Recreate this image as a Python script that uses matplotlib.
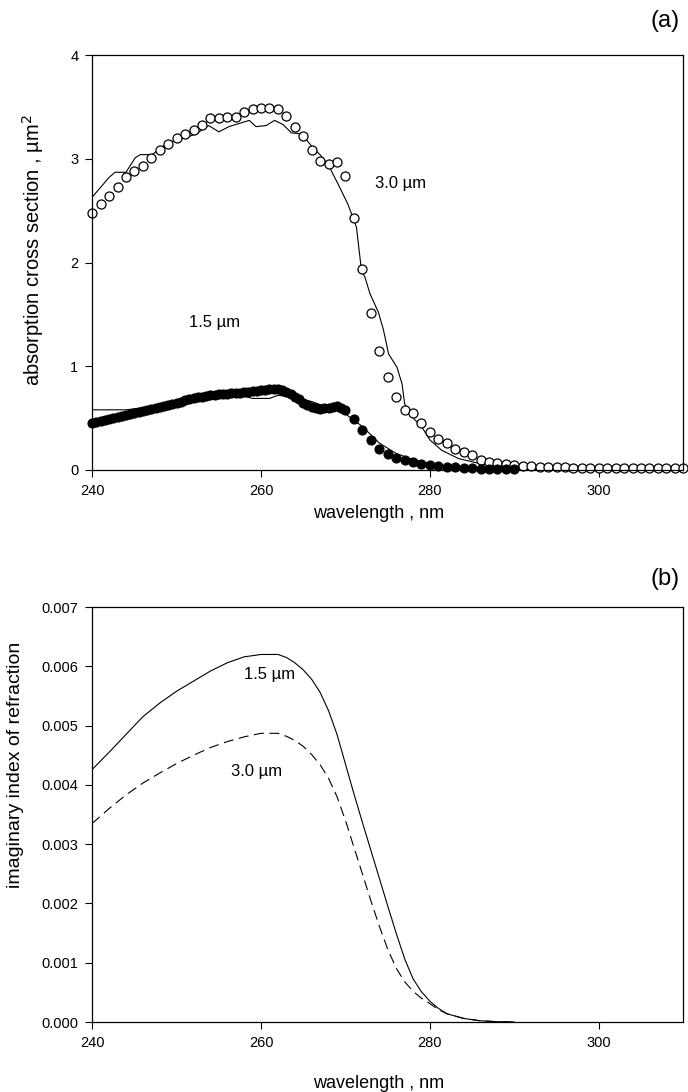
import numpy as np
import matplotlib
matplotlib.use('Agg')
import matplotlib.pyplot as plt

plt.rcParams['font.family'] = ['Liberation Sans', 'DejaVu Sans']

# (a) measured absorption cross section, 3.0 um particles (open circles)
wl_30 = np.arange(240, 311, 1.0)
abs_30 = [2.48, 2.56, 2.64, 2.73, 2.82, 2.88, 2.93, 3.01, 3.08, 3.14,
          3.20, 3.24, 3.28, 3.33, 3.39, 3.39, 3.40, 3.40, 3.45, 3.48,
          3.49, 3.49, 3.48, 3.41, 3.31, 3.22, 3.08, 2.98, 2.95, 2.97,
          2.83, 2.43, 1.94, 1.51, 1.15, 0.90, 0.70, 0.58, 0.55, 0.45,
          0.37, 0.30, 0.26, 0.20, 0.17, 0.14, 0.10, 0.08, 0.07, 0.06,
          0.05, 0.04, 0.04, 0.03, 0.03, 0.03, 0.03, 0.02, 0.02, 0.02,
          0.02, 0.02, 0.02, 0.02, 0.02, 0.02, 0.02, 0.02, 0.02, 0.02,
          0.02]

# (a) measured, 1.5 um particles (filled circles)
wl_15 = list(np.arange(240, 270.5, 0.5)) + list(np.arange(271, 291, 1.0))
abs_15 = [0.45, 0.46, 0.47, 0.48, 0.49, 0.50, 0.51, 0.52, 0.53, 0.54,
          0.55, 0.56, 0.57, 0.58, 0.59, 0.60, 0.61, 0.62, 0.63, 0.64,
          0.65, 0.66, 0.67, 0.68, 0.69, 0.70, 0.70, 0.71, 0.72, 0.72,
          0.73, 0.73, 0.73, 0.74, 0.74, 0.74, 0.75, 0.75, 0.76, 0.76,
          0.77, 0.77, 0.78, 0.78, 0.78, 0.77, 0.75, 0.73, 0.70, 0.68,
          0.65, 0.63, 0.61, 0.60, 0.59, 0.60, 0.60, 0.61, 0.62, 0.60,
          0.58,
          0.49, 0.39, 0.29, 0.20, 0.155, 0.12, 0.10, 0.075, 0.055, 0.045,
          0.035, 0.03, 0.025, 0.02, 0.015, 0.012, 0.01, 0.008, 0.006, 0.005]

# (a) calculated curves
fit_wl_30 = [240, 242, 242.7, 244, 245.1, 245.7, 247.1, 248.7, 249.9, 251,
             252.3, 253.8, 255, 256.2, 257.8, 258.6, 259.4, 260.6, 261.6, 262.6,
             263.6, 264.8, 266, 267.1, 268.1, 269.1, 270.3, 271.3, 271.9, 272.3,
             272.9, 273.9, 274.5, 275.1, 276.1, 276.7, 277, 277.9, 279, 280,
             281.4, 283.4, 286, 290, 295, 300]
fit_30 = [2.63, 2.82, 2.87, 2.87, 3.01, 3.04, 3.04, 3.14, 3.18, 3.20,
          3.24, 3.32, 3.26, 3.31, 3.35, 3.37, 3.31, 3.32, 3.37, 3.33,
          3.25, 3.24, 3.12, 3.03, 2.92, 2.76, 2.56, 2.34, 1.92, 1.86,
          1.70, 1.52, 1.35, 1.12, 0.99, 0.83, 0.64, 0.51, 0.42, 0.29,
          0.19, 0.11, 0.06, 0.02, 0.01, 0.0]
fit_wl_15 = [240, 242, 244, 246, 248, 250, 252, 254, 256, 258,
             259, 261, 262, 264, 266, 268, 270, 272, 274, 276,
             278, 280, 282, 285, 290, 300]
fit_15 = [0.58, 0.58, 0.58, 0.60, 0.63, 0.66, 0.68, 0.70, 0.71, 0.71,
          0.69, 0.69, 0.72, 0.70, 0.66, 0.60, 0.54, 0.42, 0.26, 0.16,
          0.10, 0.06, 0.04, 0.02, 0.01, 0.0]

# (b) imaginary index of refraction
k_wl = [240, 242, 244, 246, 248, 250, 252, 254, 256, 258,
        260, 262, 263, 264, 265, 266, 267, 268, 269, 270,
        271, 272, 273, 274, 275, 276, 277, 278, 279, 280,
        281, 282, 284, 286, 288, 290]
k_15 = [0.00426, 0.00455, 0.00485, 0.00515, 0.00538, 0.00558, 0.00575, 0.00592, 0.00606, 0.00616,
        0.00620, 0.00620, 0.00615, 0.00606, 0.00594, 0.00578, 0.00556, 0.00525, 0.00485, 0.00435,
        0.00385, 0.00337, 0.00290, 0.00243, 0.00196, 0.00150, 0.00107, 0.00073, 0.00051, 0.00035,
        0.00023, 0.00014, 0.00006, 0.00002, 0.000005, 0.0]
k_30 = [0.00335, 0.00360, 0.00383, 0.00403, 0.00420, 0.00436, 0.00450, 0.00463, 0.00473, 0.00481,
        0.00487, 0.00487, 0.00482, 0.00475, 0.00465, 0.00451, 0.00434, 0.00411, 0.00380, 0.00340,
        0.00295, 0.00250, 0.00205, 0.00162, 0.00123, 0.00091, 0.00068, 0.00052, 0.00040, 0.00031,
        0.00021, 0.00014, 0.00006, 0.00002, 0.000005, 0.0]

fig = plt.figure(figsize=(6.88, 10.92), dpi=100)
ax1 = fig.add_axes([0.134, 0.5696, 0.859, 0.380])
ax2 = fig.add_axes([0.134, 0.0641, 0.859, 0.380])

ax1.plot(fit_wl_30, fit_30, '-k', lw=0.8)
ax1.plot(fit_wl_15, fit_15, '-k', lw=0.8)
ax1.plot(wl_30, abs_30, 'o', mfc='white', mec='black', ms=6.5, mew=0.9, clip_on=False)
ax1.plot(wl_15, abs_15, 'o', mfc='black', mec='black', ms=6.5, mew=0.8, clip_on=False)
ax1.text(273.5, 2.72, '3.0 µm', fontsize=12)
ax1.text(251.5, 1.38, '1.5 µm', fontsize=12)
ax1.axis([240, 310, 0, 4])
ax1.set_xticks([240, 260, 280, 300])
ax1.set_yticks([0, 1, 2, 3, 4])
ax1.set_xlabel('wavelength , nm', fontsize=13)
ax1.set_ylabel('absorption cross section , µm$^2$', fontsize=14.5)
ax1.xaxis.set_label_coords(0.485, -0.085)
ax1.yaxis.set_label_coords(-0.078, 0.53)
fig.text(0.988, 0.981, '(a)', fontsize=17, ha='right', va='center')

ax2.plot(k_wl, k_15, '-k', lw=0.8)
ax2.plot(k_wl, k_30, '--k', lw=0.8, dashes=(9, 5))
ax2.text(258, 0.00578, '1.5 µm', fontsize=12)
ax2.text(256.5, 0.00415, '3.0 µm', fontsize=12)
ax2.axis([240, 310, 0, 0.007])
ax2.set_xticks([240, 260, 280, 300])
ax2.set_yticks(np.arange(0, 0.0071, 0.001))
ax2.set_yticklabels(['%.3f' % v for v in np.arange(0, 0.0071, 0.001)])
ax2.set_xlabel('wavelength , nm', fontsize=13)
ax2.set_ylabel('imaginary index of refraction', fontsize=14)
ax2.xaxis.set_label_coords(0.485, -0.128)
ax2.yaxis.set_label_coords(-0.115, 0.62)
fig.text(0.988, 0.47, '(b)', fontsize=17, ha='right', va='center')

for ax in (ax1, ax2):
    ax.tick_params(direction='out', length=5, width=0.8, labelsize=10.5, pad=5,
                   top=False, right=False)
    for s in ax.spines.values():
        s.set_linewidth(0.9)

fig.savefig('out.png', dpi=100)
